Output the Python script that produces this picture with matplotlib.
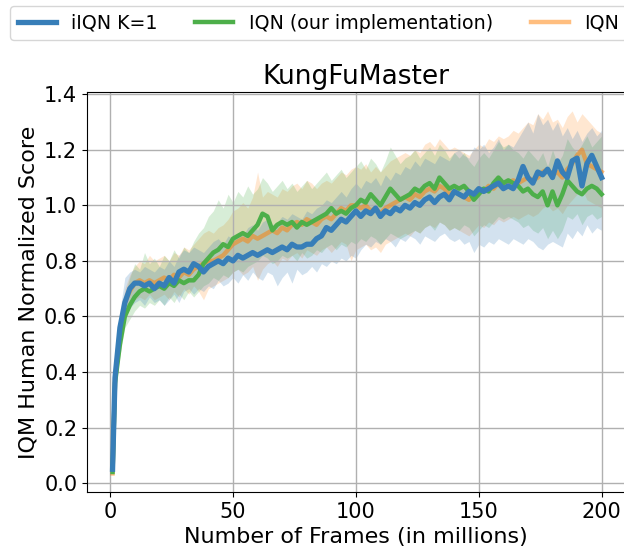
import numpy as np
import matplotlib
matplotlib.use("Agg")
import matplotlib.pyplot as plt

# Training frames (millions) at which the runs were evaluated
frames = np.concatenate([[1], np.arange(2, 201, 2)])

# iIQN K=1: IQM and its confidence band
iiqn_mean = [0.05,
    0.38, 0.56, 0.65, 0.70, 0.72, 0.72, 0.71, 0.72, 0.70, 0.72,
    0.71, 0.74, 0.72, 0.76, 0.77, 0.76, 0.79, 0.78, 0.76, 0.78,
    0.79, 0.80, 0.79, 0.81, 0.80, 0.82, 0.81, 0.82, 0.83, 0.82,
    0.83, 0.84, 0.83, 0.84, 0.85, 0.84, 0.86, 0.85, 0.85, 0.86,
    0.86, 0.88, 0.89, 0.92, 0.91, 0.93, 0.95, 0.94, 0.96, 0.98,
    0.96, 0.98, 0.97, 0.99, 0.96, 0.98, 0.97, 0.99, 0.98, 1.00,
    0.99, 1.01, 1.00, 1.02, 1.03, 1.01, 1.03, 1.04, 1.02, 1.05,
    1.04, 1.03, 1.05, 1.04, 1.06, 1.05, 1.06, 1.07, 1.08, 1.06,
    1.07, 1.06, 1.09, 1.14, 1.10, 1.08, 1.12, 1.11, 1.13, 1.10,
    1.16, 1.12, 1.10, 1.16, 1.17, 1.07, 1.15, 1.18, 1.14, 1.10]
iiqn_low = [0.04,
    0.36, 0.52, 0.60, 0.63, 0.65, 0.66, 0.64, 0.67, 0.65, 0.66,
    0.64, 0.66, 0.68, 0.65, 0.69, 0.70, 0.68, 0.70, 0.69, 0.71,
    0.70, 0.73, 0.71, 0.72, 0.74, 0.72, 0.75, 0.73, 0.76, 0.74,
    0.73, 0.76, 0.75, 0.71, 0.74, 0.76, 0.72, 0.77, 0.75, 0.76,
    0.78, 0.76, 0.79, 0.78, 0.80, 0.79, 0.81, 0.80, 0.82, 0.81,
    0.84, 0.86, 0.85, 0.87, 0.86, 0.88, 0.87, 0.85, 0.88, 0.87,
    0.89, 0.88, 0.86, 0.89, 0.88, 0.87, 0.89, 0.90, 0.88, 0.87,
    0.88, 0.86, 0.87, 0.83, 0.86, 0.85, 0.87, 0.86, 0.88, 0.87,
    0.86, 0.88, 0.87, 0.86, 0.88, 0.87, 0.85, 0.84, 0.86, 0.87,
    0.86, 0.85, 0.90, 0.88, 0.91, 0.89, 0.93, 0.90, 0.92, 0.91]
iiqn_high = [0.06,
    0.42, 0.62, 0.74, 0.76, 0.77, 0.76, 0.78, 0.77, 0.76, 0.78,
    0.77, 0.80, 0.78, 0.82, 0.84, 0.83, 0.85, 0.84, 0.83, 0.85,
    0.87, 0.88, 0.86, 0.89, 0.88, 0.90, 0.89, 0.92, 0.93, 0.91,
    0.94, 0.95, 0.93, 0.94, 0.96, 0.95, 0.97, 0.96, 0.95, 0.98,
    0.97, 0.99, 1.00, 1.02, 1.01, 1.03, 1.05, 1.03, 1.06, 1.08,
    1.06, 1.09, 1.08, 1.10, 1.07, 1.11, 1.09, 1.12, 1.11, 1.14,
    1.13, 1.16, 1.14, 1.17, 1.16, 1.15, 1.18, 1.17, 1.16, 1.19,
    1.20, 1.18, 1.17, 1.21, 1.20, 1.22, 1.19, 1.21, 1.24, 1.20,
    1.22, 1.21, 1.24, 1.27, 1.30, 1.26, 1.33, 1.29, 1.31, 1.27,
    1.30, 1.25, 1.28, 1.24, 1.27, 1.23, 1.26, 1.28, 1.25, 1.27]

# IQN (our implementation)
iqn_ours_mean = [0.04,
    0.36, 0.50, 0.60, 0.64, 0.67, 0.69, 0.70, 0.69, 0.70, 0.71,
    0.70, 0.72, 0.71, 0.73, 0.72, 0.73, 0.73, 0.75, 0.79, 0.81,
    0.83, 0.84, 0.86, 0.85, 0.88, 0.89, 0.90, 0.89, 0.91, 0.93,
    0.97, 0.96, 0.91, 0.93, 0.94, 0.93, 0.94, 0.92, 0.94, 0.93,
    0.94, 0.95, 0.96, 0.97, 0.99, 0.97, 0.98, 0.97, 0.99, 1.00,
    1.02, 1.01, 1.04, 1.02, 1.00, 1.03, 1.06, 1.04, 1.02, 1.03,
    1.04, 1.06, 1.05, 1.07, 1.08, 1.06, 1.10, 1.08, 1.06, 1.07,
    1.06, 1.07, 1.05, 1.02, 1.04, 1.06, 1.05, 1.08, 1.10, 1.08,
    1.09, 1.08, 1.07, 1.05, 1.06, 1.04, 1.03, 1.05, 1.00, 1.05,
    1.00, 1.04, 1.09, 1.07, 1.05, 1.04, 1.06, 1.07, 1.06, 1.04]
iqn_ours_low = [0.03,
    0.33, 0.46, 0.56, 0.59, 0.62, 0.64, 0.63, 0.65, 0.64, 0.66,
    0.64, 0.67, 0.65, 0.68, 0.66, 0.69, 0.67, 0.69, 0.71, 0.72,
    0.74, 0.73, 0.75, 0.74, 0.76, 0.77, 0.76, 0.78, 0.79, 0.80,
    0.82, 0.81, 0.79, 0.80, 0.82, 0.81, 0.82, 0.80, 0.83, 0.81,
    0.82, 0.84, 0.83, 0.85, 0.86, 0.84, 0.86, 0.85, 0.87, 0.86,
    0.88, 0.87, 0.89, 0.88, 0.86, 0.88, 0.90, 0.89, 0.88, 0.89,
    0.90, 0.91, 0.90, 0.92, 0.93, 0.91, 0.94, 0.93, 0.91, 0.92,
    0.91, 0.93, 0.92, 0.89, 0.91, 0.93, 0.92, 0.94, 0.96, 0.95,
    0.96, 0.95, 0.94, 0.92, 0.93, 0.91, 0.90, 0.92, 0.88, 0.91,
    0.88, 0.91, 0.96, 0.95, 0.97, 0.93, 0.96, 0.97, 0.95, 0.96]
iqn_ours_high = [0.05,
    0.40, 0.56, 0.68, 0.74, 0.79, 0.77, 0.83, 0.79, 0.81, 0.78,
    0.82, 0.80, 0.84, 0.81, 0.85, 0.83, 0.87, 0.90, 0.92, 0.96,
    0.98, 1.02, 0.99, 1.04, 1.01, 1.05, 1.03, 1.07, 1.04, 1.06,
    1.10, 1.08, 1.05, 1.07, 1.09, 1.06, 1.08, 1.05, 1.07, 1.09,
    1.06, 1.08, 1.10, 1.12, 1.09, 1.11, 1.13, 1.10, 1.12, 1.14,
    1.16, 1.13, 1.17, 1.15, 1.12, 1.16, 1.21, 1.18, 1.15, 1.17,
    1.18, 1.20, 1.17, 1.19, 1.21, 1.18, 1.22, 1.20, 1.17, 1.19,
    1.17, 1.19, 1.16, 1.14, 1.17, 1.19, 1.17, 1.20, 1.23, 1.21,
    1.22, 1.20, 1.19, 1.17, 1.20, 1.18, 1.16, 1.19, 1.14, 1.20,
    1.15, 1.18, 1.24, 1.21, 1.19, 1.22, 1.25, 1.21, 1.23, 1.25]

# IQN (reference results)
iqn_mean = [0.035,
    0.37, 0.55, 0.65, 0.69, 0.72, 0.73, 0.72, 0.73, 0.72, 0.73,
    0.74, 0.73, 0.75, 0.74, 0.76, 0.75, 0.77, 0.78, 0.79, 0.80,
    0.80, 0.81, 0.82, 0.84, 0.86, 0.87, 0.88, 0.87, 0.89, 0.88,
    0.89, 0.90, 0.91, 0.90, 0.92, 0.91, 0.93, 0.94, 0.93, 0.95,
    0.94, 0.93, 0.95, 0.96, 0.95, 0.97, 0.99, 0.98, 1.00, 1.00,
    0.99, 1.00, 0.98, 0.99, 0.97, 0.99, 1.00, 1.01, 1.02, 1.03,
    1.02, 1.04, 1.03, 1.05, 1.06, 1.05, 1.07, 1.06, 1.04, 1.05,
    1.04, 1.03, 1.02, 1.04, 1.06, 1.05, 1.07, 1.06, 1.08, 1.07,
    1.08, 1.09, 1.08, 1.09, 1.10, 1.09, 1.10, 1.12, 1.13, 1.11,
    1.12, 1.10, 1.13, 1.15, 1.18, 1.20, 1.15, 1.14, 1.13, 1.12]
iqn_low = [0.03,
    0.34, 0.51, 0.61, 0.64, 0.66, 0.67, 0.66, 0.68, 0.66, 0.67,
    0.68, 0.66, 0.69, 0.67, 0.70, 0.68, 0.71, 0.69, 0.66, 0.70,
    0.71, 0.72, 0.73, 0.74, 0.76, 0.77, 0.75, 0.76, 0.78, 0.73,
    0.77, 0.79, 0.80, 0.78, 0.81, 0.80, 0.82, 0.83, 0.81, 0.84,
    0.83, 0.82, 0.84, 0.85, 0.83, 0.85, 0.87, 0.86, 0.80, 0.84,
    0.85, 0.86, 0.84, 0.85, 0.83, 0.86, 0.87, 0.88, 0.89, 0.90,
    0.89, 0.91, 0.90, 0.92, 0.93, 0.92, 0.94, 0.93, 0.91, 0.92,
    0.91, 0.90, 0.89, 0.91, 0.93, 0.92, 0.94, 0.93, 0.95, 0.94,
    0.95, 0.96, 0.95, 0.96, 0.97, 0.96, 0.97, 0.99, 1.00, 0.98,
    0.99, 0.97, 1.00, 1.02, 1.04, 1.06, 1.02, 1.01, 1.00, 0.99]
iqn_high = [0.04,
    0.40, 0.59, 0.70, 0.75, 0.78, 0.80, 0.79, 0.82, 0.80, 0.81,
    0.82, 0.80, 0.83, 0.82, 0.85, 0.84, 0.86, 0.88, 0.90, 0.91,
    0.90, 0.92, 0.93, 0.95, 0.98, 0.99, 1.01, 0.99, 1.03, 1.12,
    1.03, 1.05, 1.04, 1.03, 1.06, 1.05, 1.07, 1.08, 1.06, 1.09,
    1.08, 1.06, 1.08, 1.09, 1.08, 1.10, 1.12, 1.11, 1.13, 1.14,
    1.13, 1.15, 1.12, 1.14, 1.12, 1.14, 1.16, 1.17, 1.18, 1.19,
    1.18, 1.20, 1.19, 1.22, 1.23, 1.21, 1.24, 1.22, 1.20, 1.21,
    1.20, 1.19, 1.18, 1.20, 1.22, 1.21, 1.24, 1.23, 1.25, 1.24,
    1.25, 1.27, 1.26, 1.28, 1.30, 1.29, 1.33, 1.31, 1.34, 1.30,
    1.31, 1.28, 1.32, 1.34, 1.30, 1.33, 1.31, 1.29, 1.27, 1.26]

labels = ["iIQN K=1", "IQN (our implementation)", "IQN"]
title = "KungFuMaster"
xlabel = "Number of Frames (in millions)"
ylabel = "IQM Human Normalized Score"

BLUE = "#377eb8"
GREEN = "#4daf4a"
ORANGE = "#ff7f00"

fig = plt.figure(figsize=(6.24, 5.54), dpi=100)
ax = fig.add_axes([87 / 624, 62 / 554, 538 / 624, 400 / 554])

# bands first, then curves (orange at the back, blue on top)
ax.fill_between(frames, iqn_low, iqn_high, color=ORANGE, alpha=0.18, linewidth=0)
ax.fill_between(frames, iqn_ours_low, iqn_ours_high, color=GREEN, alpha=0.22, linewidth=0)
ax.fill_between(frames, iiqn_low, iiqn_high, color=BLUE, alpha=0.22, linewidth=0)

h_iqn, = ax.plot(frames, iqn_mean, color=ORANGE, alpha=0.5, lw=3.2)
h_ours, = ax.plot(frames, iqn_ours_mean, color=GREEN, lw=3.2)
h_iiqn, = ax.plot(frames, iiqn_mean, color=BLUE, lw=3.8)

ax.set_xlim(-9.4, 209.5)
ax.set_ylim(-0.032, 1.408)
ax.set_xticks([0, 50, 100, 150, 200])
ax.set_yticks(np.arange(0, 1.41, 0.2))
ax.tick_params(labelsize=15)
ax.grid(True, color="#b0b0b0", linewidth=1)

ax.set_title(title, fontsize=19)
ax.set_xlabel(xlabel, fontsize=16)
ax.set_ylabel(ylabel, fontsize=16)

fig.legend([h_iiqn, h_ours, h_iqn], labels, loc="upper left",
           bbox_to_anchor=(10 / 624, 1 - 6 / 554), ncol=3, fontsize=13.7,
           borderaxespad=0, frameon=True)

fig.savefig("out.png", dpi=100)
